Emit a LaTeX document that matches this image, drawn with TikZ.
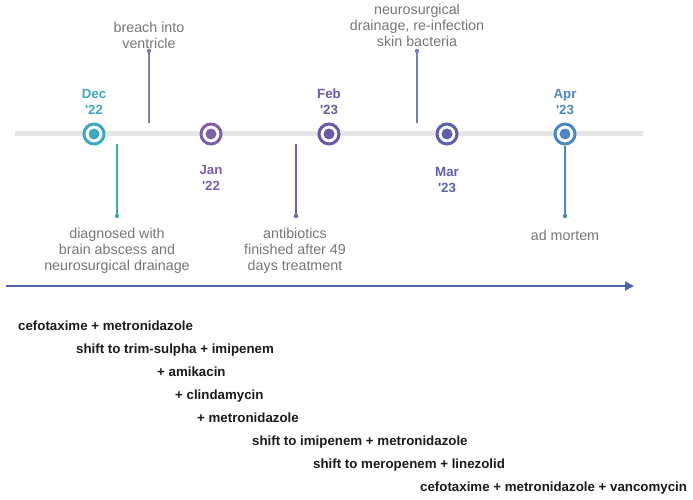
\documentclass[tikz,border=0pt]{standalone}
\usepackage{fontspec}
\setmainfont{Liberation Sans}[Ligatures=TeXOff]
\usetikzlibrary{arrows.meta}

\definecolor{cDec}{HTML}{3FA7BF}
\definecolor{cJan}{HTML}{7E60A8}
\definecolor{cFeb}{HTML}{6B58A6}
\definecolor{cMar}{HTML}{5A60AC}
\definecolor{cApr}{HTML}{4D87C0}
\definecolor{cBreach}{HTML}{8C74B8}
\definecolor{cAbx}{HTML}{7862AE}
\definecolor{cNeuro}{HTML}{6F7FC0}
\definecolor{cArrow}{HTML}{4A64AE}
\definecolor{cTrack}{HTML}{E6E6E6}
\definecolor{cNote}{HTML}{767676}
\definecolor{cDrug}{HTML}{1A1A1A}

\tikzset{
  event/.style={circle, draw=#1, line width=3pt, fill=white, minimum size=20pt,
    inner sep=0pt,
    path picture={\fill[#1] (path picture bounding box.center) circle (5.5pt);}},
  datelbl/.style={text=#1, font=\fontsize{13.3}{16}\selectfont\bfseries, align=center, inner sep=0pt},
  note/.style={text=cNote, font=\fontsize{14.3}{16}\selectfont, align=center, inner sep=0pt},
  stem/.style={draw=#1, line width=1.4pt},
  stemdot/.style={fill=#1},
  drug/.style={text=cDrug, font=\fontsize{13.3}{16}\selectfont\bfseries, anchor=base west, inner sep=0pt},
  track/.style={draw=cTrack, line width=5pt},
  timearrow/.style={draw=cArrow, line width=1.8pt, -{Triangle[length=9pt,width=9pt]}},
}

\begin{document}
\begin{tikzpicture}[x=1pt,y=-1pt]
  \useasboundingbox (0,0) rectangle (693,500);

  % grey time track
  \coordinate (trackL) at (15,134);
  \coordinate (trackR) at (643,134);
  \draw[track] (trackL) -- (trackR);

  % month markers
  \node[event=cDec] (dec) at (94,134) {};
  \node[event=cJan] (jan) at (211,134) {};
  \node[event=cFeb] (feb) at (329,134) {};
  \node[event=cMar] (mar) at (447,134) {};
  \node[event=cApr] (apr) at (565,134) {};

  \node[datelbl=cDec] (decL) at (94,102) {Dec\\'22};
  \node[datelbl=cJan] (janL) at (211,178) {Jan\\'22};
  \node[datelbl=cFeb] (febL) at (329,102) {Feb\\'23};
  \node[datelbl=cMar] (marL) at (447,180) {Mar\\'23};
  \node[datelbl=cApr] (aprL) at (565,102) {Apr\\'23};

  % event stems
  \coordinate (breachTop) at (149,51);
  \coordinate (breachBot) at (149,123);
  \draw[stem=cBreach] (breachBot) -- (breachTop);
  \fill[stemdot=cBreach] (breachTop) circle (2.2pt);

  \coordinate (diagTop) at (117,144);
  \coordinate (diagBot) at (117,216);
  \draw[stem=cDec] (diagTop) -- (diagBot);
  \fill[stemdot=cDec] (diagBot) circle (2.2pt);

  \coordinate (abxTop) at (296,144);
  \coordinate (abxBot) at (296,216);
  \draw[stem=cAbx] (abxTop) -- (abxBot);
  \fill[stemdot=cAbx] (abxBot) circle (2.2pt);

  \coordinate (neuroTop) at (417,51);
  \coordinate (neuroBot) at (417,123);
  \draw[stem=cNeuro] (neuroBot) -- (neuroTop);
  \fill[stemdot=cNeuro] (neuroTop) circle (2.2pt);

  \coordinate (aprBot) at (565,216);
  \draw[stem=cApr] (apr.south) -- (aprBot);
  \fill[stemdot=cApr] (aprBot) circle (2.2pt);

  % event notes
  \node[note] (breachTxt) at (149,35) {breach into\\ventricle};
  \node[note] (neuroTxt) at (417,25) {neurosurgical\\drainage, re-infection\\skin bacteria};
  \node[note] (diagTxt) at (117,251) {diagnosed with\\brain abscess and\\neurosurgical drainage};
  \node[note] (abxTxt) at (295,251) {antibiotics\\finished after 49\\days treatment};
  \node[note] (mortTxt) at (565,235) {ad mortem};

  % treatment time axis
  \coordinate (axisL) at (6,286);
  \coordinate (axisR) at (634,286);
  \draw[timearrow] (axisL) -- (axisR);

  % antibiotic regimens
  \node[drug] (rx1) at (18,330.5) {cefotaxime + metronidazole};
  \node[drug] (rx2) at (76,353.5) {shift to trim-sulpha + imipenem};
  \node[drug] (rx3) at (157,376.5) {+ amikacin};
  \node[drug] (rx4) at (175,399.5) {+ clindamycin};
  \node[drug] (rx5) at (197,422.5) {+ metronidazole};
  \node[drug] (rx6) at (252,445.5) {shift to imipenem + metronidazole};
  \node[drug] (rx7) at (313,468.5) {shift to meropenem + linezolid};
  \node[drug] (rx8) at (420,491.5) {cefotaxime + metronidazole + vancomycin};
\end{tikzpicture}
\end{document}
